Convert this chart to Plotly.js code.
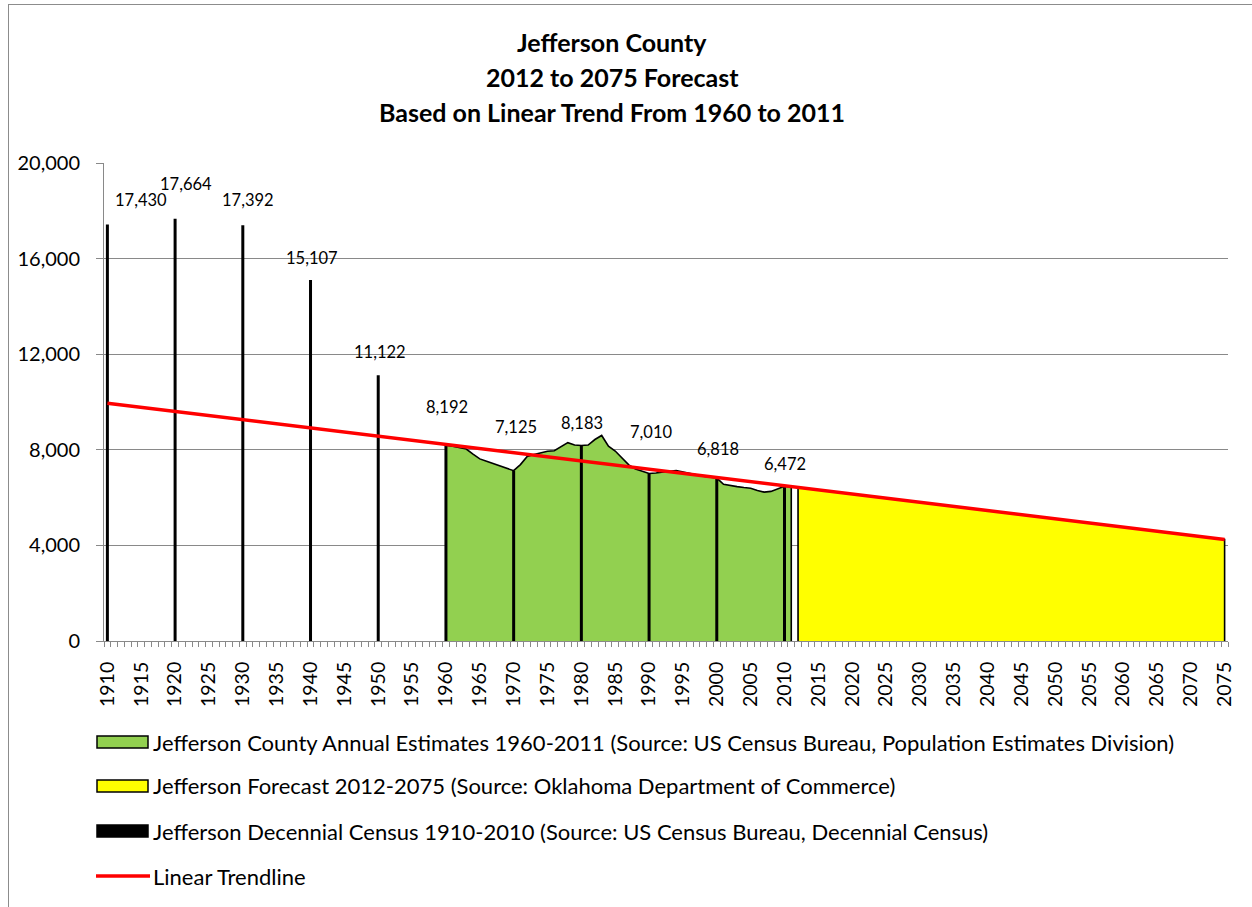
<!DOCTYPE html>
<html>
<head>
<meta charset="utf-8">
<script src="https://cdn.plot.ly/plotly-3.0.1.min.js"></script>
<style>
  html, body { margin: 0; padding: 0; background: #fff; }
  #wrap { position: relative; width: 1252px; height: 907px; overflow: hidden; }
  #chart { position: absolute; left: 0; top: 0; width: 1252px; height: 907px; }
  #frame { position: absolute; left: 8px; top: 4px; width: 1250px; height: 920px;
           border: 1px solid #8c8c8c; box-sizing: border-box; pointer-events: none; }
</style>
</head>
<body>
<div id="wrap">
  <div id="chart"></div>
  <div id="frame"></div>
</div>
<script>
// ---------------- DATA ----------------
const titleLines = [
  "Jefferson County",
  "2012 to 2075 Forecast",
  "Based on Linear Trend From 1960 to 2011"
];

// Decennial census 1910-2010
const censusYears  = [1910, 1920, 1930, 1940, 1950, 1960, 1970, 1980, 1990, 2000, 2010];
const censusValues = [17430, 17664, 17392, 15107, 11122, 8192, 7125, 8183, 7010, 6818, 6472];
const censusLabels = ["17,430","17,664","17,392","15,107","11,122","8,192","7,125","8,183","7,010","6,818","6,472"];

// Annual estimates 1960-2011
const annualYears = [1960,1961,1962,1963,1964,1965,1966,1967,1968,1969,
                     1970,1971,1972,1973,1974,1975,1976,1977,1978,1979,
                     1980,1981,1982,1983,1984,1985,1986,1987,1988,1989,
                     1990,1991,1992,1993,1994,1995,1996,1997,1998,1999,
                     2000,2001,2002,2003,2004,2005,2006,2007,2008,2009,
                     2010,2011];
const annualValues = [8192,8150,8100,8030,7820,7620,7520,7420,7300,7220,
                      7125,7380,7720,7800,7880,7940,7960,8120,8300,8200,
                      8183,8200,8430,8600,8150,7950,7650,7370,7200,7120,
                      7010,7030,7050,7100,7130,7060,7000,6950,6900,6860,
                      6818,6560,6500,6460,6420,6390,6300,6230,6260,6380,
                      6472,6450];

// Forecast 2012-2075
const forecastYears  = [2012,2015,2020,2025,2030,2035,2040,2045,2050,2055,2060,2065,2070,2075];
const forecastValues = [6430,6320,6150,5980,5800,5630,5460,5290,5110,4940,4770,4600,4420,4250];

// Linear trendline end points
const trendYears  = [1910, 2075];
const trendValues = [9950, 4250];

const legendLabels = [
  "Jefferson County Annual Estimates 1960-2011 (Source: US Census Bureau, Population Estimates Division)",
  "Jefferson Forecast 2012-2075 (Source: Oklahoma Department of Commerce)",
  "Jefferson Decennial Census 1910-2010 (Source: US Census Bureau, Decennial Census)",
  "Linear Trendline"
];

// ---------------- STYLE / LAYOUT ----------------
const FONT = "Lato, 'Open Sans', sans-serif";
const GREEN = "#92D050", YELLOW = "#FFFF00", RED = "#FF0000", GRID = "#898989";
const M = {l: 104, r: 24, t: 163, b: 266};
const W = 1252, H = 907;
const plotW = W - M.l - M.r, plotH = H - M.t - M.b;
const pxX = p => (p - M.l) / plotW;
const pxY = p => (H - M.b - p) / plotH;

// label offsets (px) from the top of each census bar
const labelDX = [34, 11, 5, 1, 2, 1, 2, 1, 2, 1, 1];
const labelDY = [24, 35, 25, 22, 23, 38, 44, 22, 41, 29, 22];

function areaTrace(xs, ys, fill) {
  return {
    type: "scatter", mode: "lines",
    x: [xs[0]].concat(xs, [xs[xs.length - 1]]),
    y: [0].concat(ys, [0]),
    fill: "tozeroy", fillcolor: fill,
    line: {color: "#000", width: 1.6},
    hoverinfo: "skip", showlegend: false
  };
}

const censusX = [], censusY = [];
censusYears.forEach((yr, i) => { censusX.push(yr, yr, null); censusY.push(0, censusValues[i], null); });

const traces = [
  areaTrace(annualYears, annualValues, GREEN),
  areaTrace(forecastYears, forecastValues, YELLOW),
  {type: "scatter", mode: "lines", x: censusX, y: censusY,
   line: {color: "#000", width: 3}, hoverinfo: "skip", showlegend: false},
  {type: "scatter", mode: "lines", x: trendYears, y: trendValues,
   line: {color: RED, width: 3.5}, hoverinfo: "skip", showlegend: false}
];

const annotations = [];
// title lines
const titleY = [42, 77, 112];
titleLines.forEach((t, i) => annotations.push({
  xref: "paper", yref: "paper", x: pxX(612), y: pxY(titleY[i]),
  xanchor: "center", yanchor: "middle", showarrow: false,
  text: "<b>" + t + "</b>", font: {family: FONT, size: 25, color: "#000"}
}));
// data labels
censusYears.forEach((yr, i) => annotations.push({
  x: yr, y: censusValues[i], xref: "x", yref: "y",
  xanchor: "center", yanchor: "middle", showarrow: false,
  xshift: labelDX[i], yshift: labelDY[i],
  text: censusLabels[i], font: {family: FONT, size: 16.5, color: "#000"}
}));

// manual legend
const legY = [742, 786, 831, 876];
const shapes = [];
const swatchFill = [GREEN, YELLOW, "#000"];
for (let i = 0; i < 3; i++) {
  shapes.push({type: "rect", xref: "paper", yref: "paper",
    x0: pxX(97), x1: pxX(148), y0: pxY(legY[i] - 6), y1: pxY(legY[i] + 6),
    fillcolor: swatchFill[i], line: {color: "#000", width: 1.5}});
}
shapes.push({type: "line", xref: "paper", yref: "paper",
  x0: pxX(96), x1: pxX(150), y0: pxY(legY[3]), y1: pxY(legY[3]),
  line: {color: RED, width: 3.5}});
legendLabels.forEach((t, i) => annotations.push({
  xref: "paper", yref: "paper", x: pxX(151), y: pxY(legY[i]),
  xanchor: "left", yanchor: "middle", showarrow: false,
  text: t, font: {family: FONT, size: 22, color: "#000"}
}));

const layout = {
  width: W, height: H,
  margin: M,
  paper_bgcolor: "#fff", plot_bgcolor: "#fff",
  font: {family: FONT, color: "#000"},
  showlegend: false,
  xaxis: {
    range: [1909.5, 2075.5], tickmode: "linear", tick0: 1910, dtick: 5,
    ticks: "", tickangle: -90, ticklabelstandoff: 12,
    tickfont: {family: FONT, size: 19.5, color: "#000"},
    showgrid: false, zeroline: false, showline: true, linecolor: GRID, linewidth: 1,
    minor: {tick0: 1909.5, dtick: 1, ticks: "outside", ticklen: 5, tickcolor: GRID, tickwidth: 1, showgrid: false},
    fixedrange: true
  },
  yaxis: {
    range: [0, 20000], tickmode: "linear", tick0: 0, dtick: 4000, tickformat: ",d",
    ticks: "outside", ticklen: 7, tickcolor: GRID, ticklabelstandoff: 12,
    tickfont: {family: FONT, size: 20, color: "#000"},
    showgrid: true, gridcolor: GRID, gridwidth: 1,
    zeroline: false, showline: true, linecolor: GRID, linewidth: 1,
    fixedrange: true
  },
  annotations: annotations,
  shapes: shapes
};

Plotly.newPlot("chart", traces, layout, {displayModeBar: false, staticPlot: true});
</script>
</body>
</html>
